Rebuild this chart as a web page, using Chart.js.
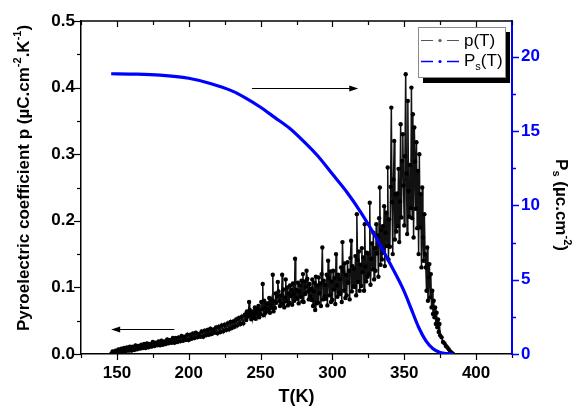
<!DOCTYPE html>
<html>
<head>
<meta charset="utf-8">
<script src="https://cdn.jsdelivr.net/npm/chart.js@4.4.1/dist/chart.umd.min.js"></script>
<style>
  html, body { margin: 0; padding: 0; background: #fff; }
  #chart { display: block; }
</style>
</head>
<body>
<canvas id="chart" width="574" height="412"></canvas>
<script>
// p(T): pyroelectric coefficient
// 1 K steps below 240 K, 0.5 K steps through the noisy part
const tempK = [
    146, 147, 148, 149,
    150, 151, 152, 153, 154, 155, 156, 157, 158, 159,
    160, 161, 162, 163, 164, 165, 166, 167, 168, 169,
    170, 171, 172, 173, 174, 175, 176, 177, 178, 179,
    180, 181, 182, 183, 184, 185, 186, 187, 188, 189,
    190, 191, 192, 193, 194, 195, 196, 197, 198, 199,
    200, 201, 202, 203, 204, 205, 206, 207, 208, 209,
    210, 211, 212, 213, 214, 215, 216, 217, 218, 219,
    220, 221, 222, 223, 224, 225, 226, 227, 228, 229,
    230, 231, 232, 233, 234, 235, 236, 237, 238, 239,
    240, 240.5, 241, 241.5, 242, 242.5, 243, 243.5, 244, 244.5,
    245, 245.5, 246, 246.5, 247, 247.5, 248, 248.5, 249, 249.5,
    250, 250.5, 251, 251.5, 252, 252.5, 253, 253.5, 254, 254.5,
    255, 255.5, 256, 256.5, 257, 257.5, 258, 258.5, 259, 259.5,
    260, 260.5, 261, 261.5, 262, 262.5, 263, 263.5, 264, 264.5,
    265, 265.5, 266, 266.5, 267, 267.5, 268, 268.5, 269, 269.5,
    270, 270.5, 271, 271.5, 272, 272.5, 273, 273.5, 274, 274.5,
    275, 275.5, 276, 276.5, 277, 277.5, 278, 278.5, 279, 279.5,
    280, 280.5, 281, 281.5, 282, 282.5, 283, 283.5, 284, 284.5,
    285, 285.5, 286, 286.5, 287, 287.5, 288, 288.5, 289, 289.5,
    290, 290.5, 291, 291.5, 292, 292.5, 293, 293.5, 294, 294.5,
    295, 295.5, 296, 296.5, 297, 297.5, 298, 298.5, 299, 299.5,
    300, 300.5, 301, 301.5, 302, 302.5, 303, 303.5, 304, 304.5,
    305, 305.5, 306, 306.5, 307, 307.5, 308, 308.5, 309, 309.5,
    310, 310.5, 311, 311.5, 312, 312.5, 313, 313.5, 314, 314.5,
    315, 315.5, 316, 316.5, 317, 317.5, 318, 318.5, 319, 319.5,
    320, 320.5, 321, 321.5, 322, 322.5, 323, 323.5, 324, 324.5,
    325, 325.5, 326, 326.5, 327, 327.5, 328, 328.5, 329, 329.5,
    330, 330.5, 331, 331.5, 332, 332.5, 333, 333.5, 334, 334.5,
    335, 335.5, 336, 336.5, 337, 337.5, 338, 338.5, 339, 339.5,
    340, 340.5, 341, 341.5, 342, 342.5, 343, 343.5, 344, 344.5,
    345, 345.5, 346, 346.5, 347, 347.5, 348, 348.5, 349, 349.5,
    350, 350.5, 351, 351.5, 352, 352.5, 353, 353.5, 354, 354.5,
    355, 355.5, 356, 356.5, 357, 357.5, 358, 358.5, 359, 359.5,
    360, 360.5, 361, 361.5, 362, 362.5, 363, 363.5, 364, 364.5,
    365, 365.5, 366, 366.5, 367, 367.5, 368, 368.5, 369, 369.5,
    370, 370.5, 371, 371.5, 372, 372.5, 373, 373.5, 374, 374.5,
    375, 376, 377, 378, 379, 380, 381, 382, 383, 384
];
const pyroCoef = [
    0.000, 0.004, 0.000, 0.005,
    0.001, 0.007, 0.002, 0.008, 0.003, 0.009, 0.004, 0.010, 0.005, 0.011,
    0.005, 0.011, 0.006, 0.013, 0.007, 0.012, 0.008, 0.014, 0.009, 0.015,
    0.009, 0.016, 0.010, 0.015, 0.011, 0.018, 0.012, 0.017, 0.013, 0.019,
    0.013, 0.020, 0.014, 0.019, 0.015, 0.022, 0.016, 0.021, 0.017, 0.024,
    0.017, 0.024, 0.018, 0.025, 0.019, 0.027, 0.020, 0.026, 0.021, 0.029,
    0.021, 0.029, 0.023, 0.031, 0.024, 0.032, 0.025, 0.030, 0.026, 0.034,
    0.026, 0.035, 0.028, 0.036, 0.029, 0.038, 0.030, 0.037, 0.032, 0.040,
    0.031, 0.041, 0.033, 0.043, 0.034, 0.044, 0.036, 0.046, 0.037, 0.048,
    0.039, 0.049, 0.041, 0.052, 0.043, 0.054, 0.045, 0.056, 0.046, 0.059,
    0.051, 0.064, 0.056, 0.061, 0.078, 0.066, 0.057, 0.052, 0.063, 0.054,
    0.064, 0.057, 0.070, 0.053, 0.063, 0.068, 0.059, 0.072, 0.055, 0.066,
    0.060, 0.078, 0.067, 0.105, 0.058, 0.080, 0.069, 0.062, 0.076, 0.065,
    0.076, 0.067, 0.084, 0.062, 0.074, 0.081, 0.069, 0.119, 0.064, 0.079,
    0.069, 0.091, 0.077, 0.086, 0.108, 0.094, 0.080, 0.072, 0.088, 0.074,
    0.119, 0.076, 0.097, 0.070, 0.085, 0.112, 0.079, 0.100, 0.073, 0.091,
    0.077, 0.103, 0.087, 0.096, 0.074, 0.106, 0.090, 0.080, 0.143, 0.084,
    0.096, 0.083, 0.107, 0.076, 0.093, 0.103, 0.086, 0.110, 0.079, 0.120,
    0.078, 0.109, 0.090, 0.101, 0.125, 0.113, 0.094, 0.082, 0.105, 0.086,
    0.098, 0.081, 0.112, 0.072, 0.094, 0.107, 0.066, 0.116, 0.076, 0.103,
    0.077, 0.115, 0.091, 0.106, 0.072, 0.120, 0.160, 0.082, 0.110, 0.086,
    0.104, 0.083, 0.119, 0.073, 0.140, 0.114, 0.088, 0.124, 0.078, 0.109,
    0.081, 0.125, 0.097, 0.114, 0.075, 0.150, 0.103, 0.086, 0.119, 0.092,
    0.113, 0.090, 0.130, 0.078, 0.168, 0.124, 0.095, 0.136, 0.084, 0.119,
    0.088, 0.138, 0.107, 0.125, 0.082, 0.144, 0.170, 0.094, 0.132, 0.101,
    0.128, 0.101, 0.147, 0.088, 0.210, 0.141, 0.108, 0.154, 0.095, 0.134,
    0.102, 0.159, 0.123, 0.145, 0.095, 0.195, 0.131, 0.109, 0.152, 0.116,
    0.151, 0.120, 0.227, 0.104, 0.143, 0.166, 0.127, 0.182, 0.112, 0.159,
    0.125, 0.195, 0.151, 0.178, 0.116, 0.204, 0.250, 0.134, 0.186, 0.142,
    0.192, 0.152, 0.222, 0.132, 0.182, 0.212, 0.162, 0.280, 0.142, 0.202,
    0.161, 0.251, 0.370, 0.228, 0.150, 0.262, 0.320, 0.172, 0.240, 0.184,
    0.241, 0.192, 0.278, 0.168, 0.229, 0.345, 0.205, 0.290, 0.330, 0.253,
    0.193, 0.297, 0.420, 0.271, 0.180, 0.380, 0.245, 0.206, 0.284, 0.219,
    0.400, 0.204, 0.360, 0.175, 0.340, 0.289, 0.218, 0.318, 0.189, 0.275,
    0.150, 0.300, 0.190, 0.240, 0.130, 0.250, 0.175, 0.140, 0.210, 0.150,
    0.130, 0.095, 0.160, 0.080, 0.115, 0.135, 0.085, 0.120, 0.070, 0.095,
    0.060, 0.080, 0.055, 0.070, 0.045, 0.062, 0.040, 0.052, 0.033, 0.045,
    0.028, 0.025, 0.018, 0.016, 0.012, 0.010, 0.007, 0.004, 0.002, 0.000
];

// Ps(T): spontaneous polarisation, smooth curve
const psTemp = [146, 160, 180, 200, 215, 230, 240, 250, 260, 270, 280, 290, 300,
                310, 320, 330, 340, 350, 355, 360, 365, 370, 375, 380, 384];
const psVal = [18.85, 18.83, 18.76, 18.55, 18.2, 17.7, 17.2, 16.6, 15.9, 15.2, 14.3, 13.3, 12.1,
               10.9, 9.5, 7.9, 6.1, 4.2, 3.0, 1.8, 0.9, 0.35, 0.1, 0.02, 0];

const xTicks = [150, 200, 250, 300, 350, 400];
const xMinor = [125, 175, 225, 275, 325, 375, 425];
const pTicks = [0, 0.1, 0.2, 0.3, 0.4, 0.5];
const pMinor = [0.05, 0.15, 0.25, 0.35, 0.45];
const psTicks = [0, 5, 10, 15, 20];
const psMinor = [2.5, 7.5, 12.5, 17.5];

const FONT = 'Liberation Sans, Arial, sans-serif';
const BLUE = '#0000ff';

const setTicks = (list) => (scale) => {
    scale.ticks = list.map(v => ({value: v}));
};

// text run with super/subscripts: [text, shift] where shift: 0 normal, 1 sup, -1 sub
const drawRuns = (ctx, runs, size, weight) => {
    const small = Math.round(size * 0.62);
    let total = 0;
    for (const r of runs) {
        ctx.font = `${weight} ${r[1] ? small : size}px ${FONT}`;
        total += ctx.measureText(r[0]).width;
    }
    let x = -total / 2;
    for (const r of runs) {
        ctx.font = `${weight} ${r[1] ? small : size}px ${FONT}`;
        const dy = r[1] === 1 ? -size * 0.38 : (r[1] === -1 ? size * 0.28 : 0);
        ctx.fillText(r[0], x, dy);
        x += ctx.measureText(r[0]).width;
    }
};

const arrow = (ctx, x1, y, x2) => {
    const dir = Math.sign(x2 - x1);
    ctx.strokeStyle = '#000';
    ctx.fillStyle = '#000';
    ctx.lineWidth = 1;
    ctx.beginPath();
    ctx.moveTo(x1, y);
    ctx.lineTo(x2 - dir * 6, y);
    ctx.stroke();
    ctx.beginPath();
    ctx.moveTo(x2, y);
    ctx.lineTo(x2 - dir * 9, y - 3);
    ctx.lineTo(x2 - dir * 9, y + 3);
    ctx.closePath();
    ctx.fill();
};

const decorations = {
    id: 'decorations',
    afterDraw(chart) {
        const {ctx, chartArea: a, scales} = chart;
        const x = scales.x, y = scales.y, y1 = scales.y1;
        ctx.save();

        // frame top
        ctx.strokeStyle = '#000';
        ctx.lineWidth = 1.5;
        ctx.beginPath();
        ctx.moveTo(a.left, a.top);
        ctx.lineTo(a.right, a.top);
        ctx.stroke();

        // x ticks (bottom outward, top inward)
        ctx.lineWidth = 1.2;
        const tickX = (v, len) => {
            const px = Math.round(x.getPixelForValue(v)) + 0.5;
            ctx.beginPath();
            ctx.moveTo(px, a.bottom);
            ctx.lineTo(px, a.bottom + len);
            ctx.moveTo(px, a.top);
            ctx.lineTo(px, a.top + len);
            ctx.stroke();
        };
        xTicks.forEach(v => tickX(v, 6));
        xMinor.forEach(v => tickX(v, 4));

        // left ticks
        const tickY = (v, len) => {
            const py = Math.round(y.getPixelForValue(v)) + 0.5;
            ctx.beginPath();
            ctx.moveTo(a.left, py);
            ctx.lineTo(a.left - len, py);
            ctx.stroke();
        };
        pTicks.forEach(v => tickY(v, 7));
        pMinor.forEach(v => tickY(v, 4));

        // right ticks (blue)
        ctx.strokeStyle = BLUE;
        ctx.lineWidth = 1.5;
        const tickR = (v, len) => {
            const py = Math.round(y1.getPixelForValue(v)) + 0.5;
            ctx.beginPath();
            ctx.moveTo(a.right, py);
            ctx.lineTo(a.right + len, py);
            ctx.stroke();
        };
        psTicks.forEach(v => tickR(v, 7));
        psMinor.forEach(v => tickR(v, 4));

        // arrows pointing to each curve's axis
        arrow(ctx, x.getPixelForValue(190), Math.round(y.getPixelForValue(0.038)) + 0.5, x.getPixelForValue(146));
        arrow(ctx, x.getPixelForValue(244), Math.round(y.getPixelForValue(0.40)) + 0.5, x.getPixelForValue(318));

        // legend with drop shadow
        ctx.fillStyle = '#000';
        ctx.fillRect(423, 32, 87, 51);
        ctx.fillStyle = '#fff';
        ctx.fillRect(418, 27, 88, 51);
        ctx.strokeStyle = '#8a8a8a';
        ctx.lineWidth = 1;
        ctx.strokeRect(418.5, 27.5, 87, 50);

        const legendRow = (yy, color, width) => {
            ctx.strokeStyle = color;
            ctx.lineWidth = width;
            ctx.beginPath();
            ctx.moveTo(421, yy); ctx.lineTo(433, yy);
            ctx.moveTo(447, yy); ctx.lineTo(459, yy);
            ctx.stroke();
            ctx.fillStyle = color;
            ctx.beginPath();
            ctx.arc(440, yy, 1.6, 0, Math.PI * 2);
            ctx.fill();
        };
        legendRow(40.5, '#555', 1);
        legendRow(61.5, BLUE, 1.5);
        ctx.fillStyle = '#000';
        ctx.textBaseline = 'middle';
        ctx.textAlign = 'left';
        ctx.font = `17px ${FONT}`;
        ctx.fillText('p(T)', 464, 41);
        ctx.fillText('P', 464, 61);
        const pw = ctx.measureText('P').width;
        ctx.font = `11px ${FONT}`;
        ctx.fillText('s', 464 + pw, 67);
        const sw = ctx.measureText('s').width;
        ctx.font = `17px ${FONT}`;
        ctx.fillText('(T)', 464 + pw + sw, 61);

        // axis titles
        ctx.fillStyle = '#000';
        ctx.textAlign = 'left';
        ctx.textBaseline = 'middle';
        ctx.save();
        ctx.translate((a.left + a.right) / 2, 397);
        drawRuns(ctx, [['T(K)', 0]], 18, 'bold');
        ctx.restore();

        ctx.save();
        ctx.translate(24, 178);
        ctx.rotate(-Math.PI / 2);
        drawRuns(ctx, [['Pyroelectric coefficient p (\u00b5C.cm', 0], ['-2', 1], ['.K', 0], ['-1', 1], [')', 0]], 17, 'bold');
        ctx.restore();

        ctx.save();
        ctx.translate(561, 205);
        ctx.rotate(Math.PI / 2);
        drawRuns(ctx, [['P', 0], ['s', -1], [' (\u00b5c.cm', 0], ['-2', 1], [')', 0]], 17, 'bold');
        ctx.restore();

        ctx.restore();
    }
};

const pyroData = tempK.map((t, i) => ({x: t, y: pyroCoef[i]}));
const psData = psTemp.map((t, i) => ({x: t, y: psVal[i]}));

new Chart(document.getElementById('chart'), {
    type: 'line',
    data: {
        datasets: [
            {
                label: 'Ps(T)',
                data: psData,
                yAxisID: 'y1',
                borderColor: BLUE,
                borderWidth: 3.2,
                pointRadius: 0,
                cubicInterpolationMode: 'monotone',
                order: 0,
            },
            {
                label: 'p(T)',
                data: pyroData,
                yAxisID: 'y',
                borderColor: '#111',
                borderWidth: 1.5,
                pointRadius: 2.2,
                pointBorderWidth: 0,
                pointBackgroundColor: '#000',
                tension: 0,
                order: 1,
            },
        ],
    },
    options: {
        responsive: false,
        animation: false,
        devicePixelRatio: 1,
        layout: {padding: {top: 21, left: 0, right: 0, bottom: 0}},
        plugins: {legend: {display: false}, tooltip: {enabled: false}},
        scales: {
            x: {
                type: 'linear',
                min: 125,
                max: 425,
                afterBuildTicks: setTicks(xTicks),
                afterFit: (s) => { s.height = 58; },
                grid: {display: false, drawTicks: false},
                border: {color: '#000', width: 1.5},
                ticks: {
                    padding: 9,
                    color: '#000',
                    font: {family: FONT, size: 17, weight: 'bold'},
                },
            },
            y: {
                position: 'left',
                min: 0,
                max: 0.5,
                afterBuildTicks: setTicks(pTicks),
                afterFit: (s) => { s.width = 81; },
                grid: {display: false, drawTicks: false},
                border: {color: '#000', width: 1.5},
                ticks: {
                    padding: 6,
                    color: '#000',
                    font: {family: FONT, size: 17, weight: 'bold'},
                    callback: (v) => v.toFixed(1),
                },
            },
            y1: {
                position: 'right',
                min: 0,
                max: 22.4,
                afterBuildTicks: setTicks(psTicks),
                afterFit: (s) => { s.width = 62; },
                grid: {display: false, drawTicks: false},
                border: {color: BLUE, width: 2},
                ticks: {
                    padding: 9,
                    color: BLUE,
                    font: {family: FONT, size: 17, weight: 'bold'},
                },
            },
        },
    },
    plugins: [decorations],
});
</script>
</body>
</html>
